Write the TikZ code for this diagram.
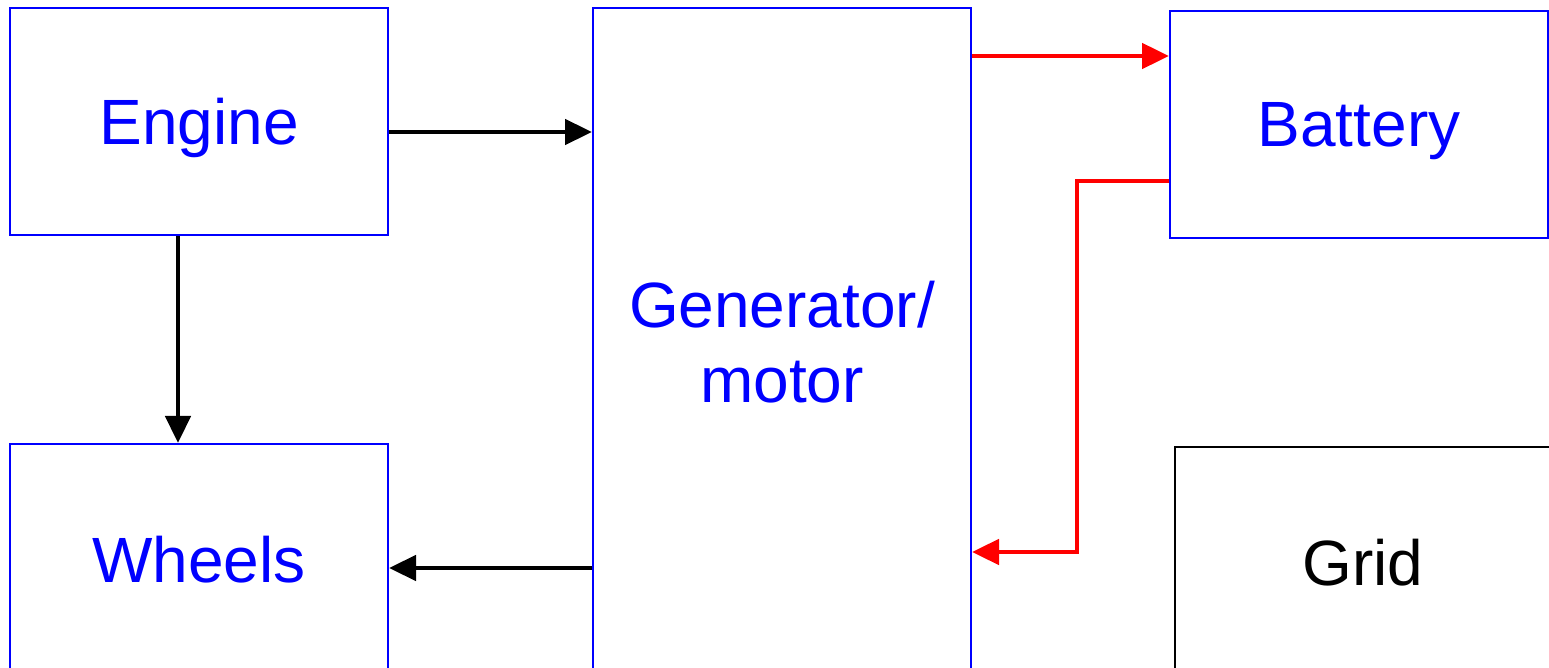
\documentclass[tikz,border=0pt]{standalone}
\usepackage{fontspec}
\setmainfont{Liberation Sans}
\usetikzlibrary{arrows.meta}
\definecolor{pblue}{RGB}{0,0,255}
\definecolor{pred}{RGB}{255,0,0}
\tikzset{
  blk/.style={draw=pblue, line width=1pt, text=pblue, inner sep=0pt, align=center,
    font=\fontsize{32}{37.5}\selectfont},
  gblk/.style={draw=black, line width=1pt, text=black, inner sep=0pt, align=center,
    font=\fontsize{32}{37.5}\selectfont},
  blkarrow/.style={draw=black, line width=2.3pt, -{Triangle[length=13.5pt,width=12.5pt]}},
  redarrow/.style={draw=pred, line width=2.4pt, -{Triangle[length=13.5pt,width=12.5pt]}}
}
\begin{document}
\begin{tikzpicture}[x=0.5pt,y=-0.5pt]
\useasboundingbox (0,0) rectangle (1549,668);
\clip (0,0) rectangle (1549,668);
\node[blk, text depth=0pt, minimum width=189pt, minimum height=113.5pt] (engine) at (199,121.5) {Engine};
\node[blk, minimum width=189pt, minimum height=116pt] (wheels) at (199,560) {Wheels};
\node[blk, minimum width=189pt, minimum height=334pt] (gen) at (782,342) {Generator/\\motor};
\node[blk, text depth=0pt, minimum width=189pt, minimum height=113.5pt] (battery) at (1359,124.5) {Battery};
\node[gblk, minimum width=188pt, minimum height=116pt] (grid) at (1363,563) {Grid};
\draw[blkarrow] (engine.east |- 0,132) -- (gen.west |- 0,132);
\draw[blkarrow] (engine.south -| 178,0) -- (wheels.north -| 178,0);
\draw[blkarrow] (gen.west |- 0,568) -- (wheels.east |- 0,568);
\draw[redarrow] (gen.east |- 0,56) -- (battery.west |- 0,56);
\draw[redarrow] (battery.west |- 0,181) -| (1077,552) -- (gen.east |- 0,552);
\end{tikzpicture}
\end{document}
